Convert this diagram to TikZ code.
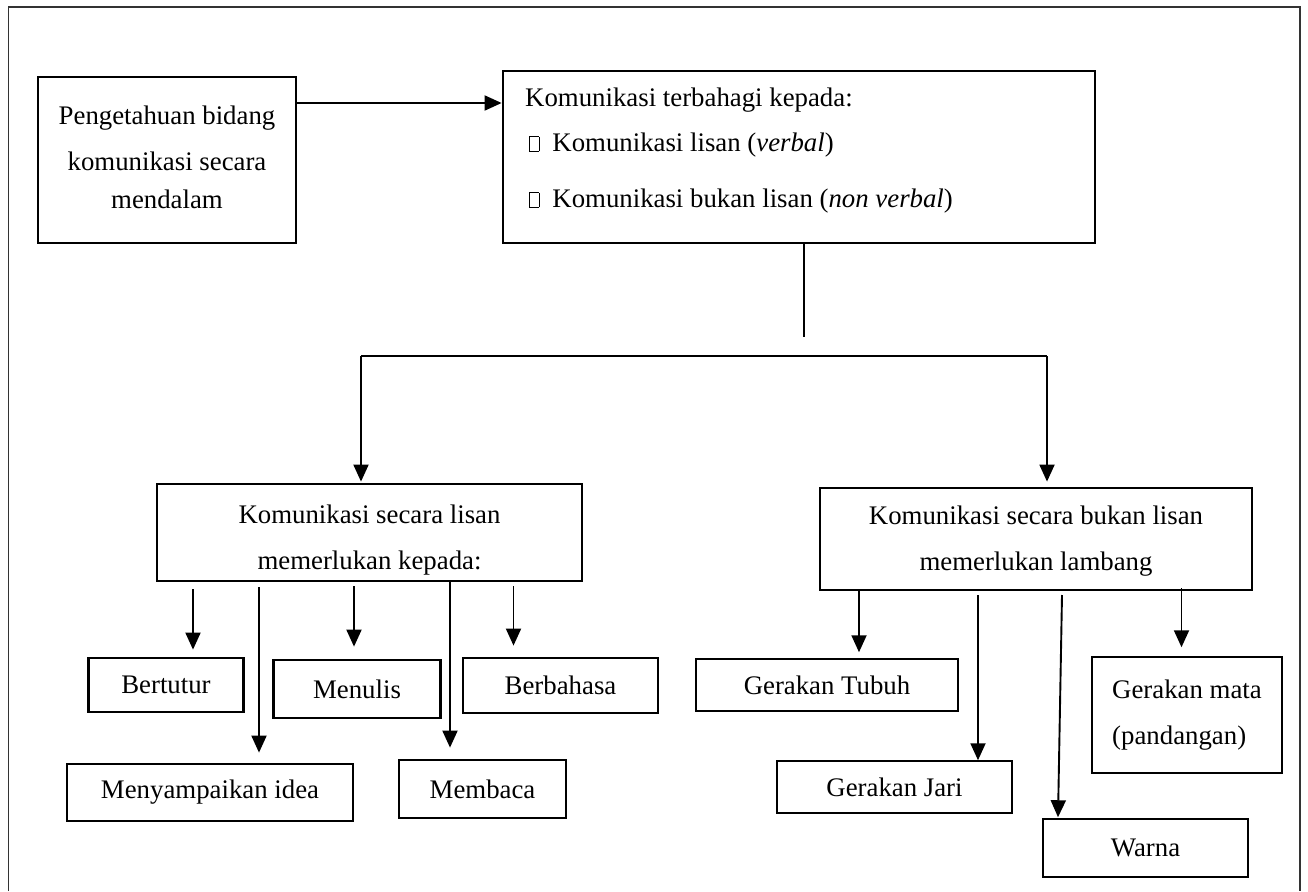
\documentclass[tikz,border=0pt]{standalone}
\usepackage{fontspec}
\setmainfont{Liberation Serif}
\usetikzlibrary{arrows.meta}
\newcommand{\bulbox}{{\setlength{\fboxsep}{0pt}\setlength{\fboxrule}{0.6pt}\fbox{\rule{0pt}{14pt}\hspace{9pt}}}}
\begin{document}
\begin{tikzpicture}[x=1pt,y=-1pt,
  every node/.style={font=\fontsize{26.8}{46}\selectfont},
  thickbox/.style={draw,line width=2.8pt,inner sep=0pt,align=center},
  thinbox/.style={draw,line width=1.5pt,inner sep=0pt,align=center},
  plain/.style={anchor=base west,inner sep=0pt},
  conn/.style={line width=1.9pt},
  arr/.style={line width=1.9pt,-{Triangle[width=15pt,length=17pt]}}]
\useasboundingbox (0,0) rectangle (1308,891);
\draw[line width=1.3pt,black!80] (8.5,891) -- (8.5,7) -- (1300,7) -- (1300,891);

% top row
\node[thickbox,minimum width=258pt,minimum height=166pt] (know) at (167,160) {};
\node[align=center,inner sep=0pt] (knowtxt) at ([yshift=3pt]know.center)
  {Pengetahuan bidang\\komunikasi secara\\[-8pt]mendalam};
\node[thickbox,minimum width=592pt,minimum height=172pt] (kinds) at (799,157) {};
\node[plain] (k0) at (525,106) {Komunikasi terbahagi kepada:};
\node[plain] (k1) at (529,151) {\bulbox\hspace{13pt}Komunikasi lisan (\textit{verbal})};
\node[plain] (k2) at (529,207) {\bulbox\hspace{13pt}Komunikasi bukan lisan (\textit{non verbal})};

% middle row
\node[thickbox,minimum width=425pt,minimum height=97pt] (oral) at (369.5,532.5) {};
\node[align=center,inner sep=0pt] (oraltxt) at ([yshift=-8pt]oral.center)
  {Komunikasi secara lisan\\memerlukan kepada:};
\node[thickbox,minimum width=432pt,minimum height=102pt] (nonoral) at (1036,539) {};
\node[align=center,inner sep=0pt] (nonoraltxt) at ([yshift=-2pt]nonoral.center)
  {Komunikasi secara bukan lisan\\memerlukan lambang};

% bottom left
\node[thickbox,minimum width=155pt,minimum height=54pt] (bertutur) at (166,685) {Bertutur};
\node[thickbox,minimum width=167pt,minimum height=58pt] (menulis) at (357,689) {Menulis};
\node[thickbox,minimum width=195pt,minimum height=55pt] (berbahasa) at (560.5,685.5) {Berbahasa};
\node[thickbox,minimum width=286pt,minimum height=57pt] (idea) at (210,792.5) {Menyampaikan idea};
\node[thickbox,minimum width=167pt,minimum height=58pt] (membaca) at (482.5,789) {Membaca};

% bottom right
\node[thinbox,minimum width=262pt,minimum height=52pt] (tubuh) at (827,685) {Gerakan Tubuh};
\node[thinbox,minimum width=235pt,minimum height=52pt] (jari) at (894.5,787) {Gerakan Jari};
\node[thinbox,minimum width=205pt,minimum height=58pt] (warna) at (1145.5,848) {Warna};
\node[thinbox,minimum width=190pt,minimum height=116pt,align=left] (mata) at (1187,715)
  {Gerakan mata\\(pandangan)};

% connectors top
\coordinate (ya) at (0,103);
\draw[arr] (know.east |- ya) -- (kinds.west |- ya);
\coordinate (vend) at (804,337);
\draw[conn] (kinds.south -| vend) -- (vend);
\coordinate (hl) at (361,356);
\coordinate (hr) at (1047,356);
\draw[conn] (hl) -- (hr);
\draw[arr] (hl) -- ([yshift=1pt]oral.north -| hl);
\draw[arr] (hr) -- ([yshift=5pt]nonoral.north -| hr);

% connectors bottom left
\coordinate (s1) at (193,589);
\coordinate (s2) at (259,587);
\coordinate (s3) at (354,586);
\coordinate (s4) at (450,0);
\coordinate (s5) at (513.5,586);
\draw[arr] (s1) -- ([yshift=7pt]bertutur.north -| s1);
\draw[arr] (s2) -- ([yshift=10pt]idea.north -| s2);
\draw[arr] (s3) -- ([yshift=12pt]menulis.north -| s3);
\draw[arr] (oral.south -| s4) -- ([yshift=11pt]membaca.north -| s4);
\draw[arr] (s5) -- ([yshift=11pt]berbahasa.north -| s5);

% connectors bottom right
\coordinate (r1) at (859,0);
\coordinate (r2) at (978,595);
\coordinate (r3) at (1062,595);
\coordinate (r3e) at (1058,0);
\coordinate (r4) at (1181.5,0);
\draw[arr] (nonoral.south -| r1) -- ([yshift=6pt]tubuh.north -| r1);
\draw[arr] (r2) -- (jari.north -| r2);
\draw[arr] (r3) -- ([yshift=1pt]warna.north -| r3e);
\draw[arr] ([yshift=3pt]nonoral.south -| r4) -- ([yshift=9pt]mata.north -| r4);
\end{tikzpicture}
\end{document}
